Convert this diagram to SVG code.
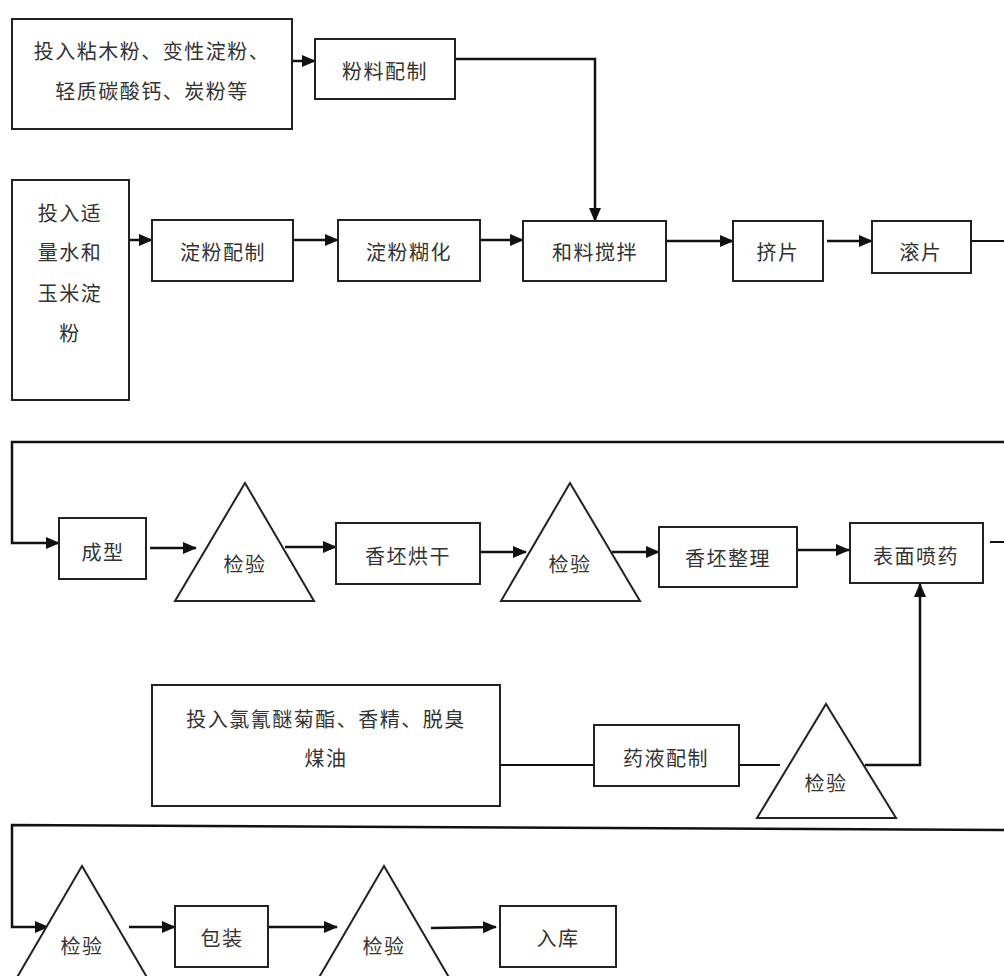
<svg xmlns="http://www.w3.org/2000/svg" width="1004" height="976" viewBox="0 0 1004 976">
<defs>
<marker id="arr" markerUnits="userSpaceOnUse" markerWidth="14" markerHeight="14" refX="13" refY="7" orient="auto">
<path d="M0,1 L14,7 L0,13 z" fill="#111"/>
</marker>
<style>
.box{fill:#fff;stroke:#222;stroke-width:2}
.tri{fill:#fff;stroke:#222;stroke-width:2}
.t{font-family:"Noto Sans CJK SC","Noto Sans",sans-serif;font-size:20px;fill:#333;text-anchor:middle;dominant-baseline:central;letter-spacing:1.5px}
.c{fill:none;stroke:#111;stroke-width:2}
.a{fill:none;stroke:#111;stroke-width:2.5;marker-end:url(#arr)}
</style>
</defs>
<rect width="1004" height="976" fill="#fff"/>
<g id="connectors">
<line class="a" x1="292" y1="61" x2="315" y2="61"/>
<path class="a" d="M455,59 H595 V221"/>
<line class="a" x1="129" y1="240" x2="152" y2="240"/>
<line class="a" x1="293" y1="240" x2="338" y2="240"/>
<line class="a" x1="480" y1="240" x2="523" y2="240"/>
<line class="a" x1="666" y1="241" x2="733" y2="241"/>
<line class="a" x1="827" y1="241" x2="872" y2="241"/>
<line class="c" x1="971" y1="241" x2="1004" y2="241"/>
<path class="a" d="M1004,442 H12 V543 H59"/>
<line class="a" x1="150" y1="548" x2="196" y2="548"/>
<line class="a" x1="285" y1="547" x2="336" y2="547"/>
<line class="a" x1="480" y1="552" x2="526" y2="552"/>
<line class="a" x1="612" y1="552" x2="659" y2="552"/>
<line class="a" x1="797" y1="550" x2="849" y2="550"/>
<line class="c" x1="990" y1="542" x2="1004" y2="542"/>
<line class="c" x1="500" y1="765" x2="594" y2="765"/>
<line class="c" x1="739" y1="765" x2="780" y2="765"/>
<path class="a" d="M865,765 H920 V584"/>
<path class="a" d="M1004,830 L12,825 V927 H48"/>
<line class="a" x1="129" y1="927" x2="175" y2="927"/>
<line class="a" x1="268" y1="927" x2="337" y2="927"/>
<line class="a" x1="431" y1="928" x2="496" y2="927"/>
</g>
<g id="n-input1">
<rect class="box" x="12" y="19" width="280" height="110"/>
<text class="t" x="152" y="50">投入粘木粉、变性淀粉、</text>
<text class="t" x="152" y="90">轻质碳酸钙、炭粉等</text>
</g>
<g id="n-fenliao">
<rect class="box" x="315" y="39" width="140" height="60"/>
<text class="t" x="385" y="70">粉料配制</text>
</g>
<g id="n-input2">
<rect class="box" x="12" y="180" width="117" height="220"/>
<text class="t" x="70" y="212">投入适</text>
<text class="t" x="70" y="251">量水和</text>
<text class="t" x="70" y="292">玉米淀</text>
<text class="t" x="70" y="332">粉</text>
</g>
<g id="n-dianfen-peizhi">
<rect class="box" x="152" y="220" width="141" height="61"/>
<text class="t" x="223" y="251">淀粉配制</text>
</g>
<g id="n-dianfen-huhua">
<rect class="box" x="338" y="220" width="142" height="61"/>
<text class="t" x="409" y="251">淀粉糊化</text>
</g>
<g id="n-heliao">
<rect class="box" x="523" y="221" width="143" height="60"/>
<text class="t" x="595" y="251">和料搅拌</text>
</g>
<g id="n-jipian">
<rect class="box" x="733" y="221" width="90" height="60"/>
<text class="t" x="778" y="251">挤片</text>
</g>
<g id="n-gunpian">
<rect class="box" x="872" y="221" width="99" height="52"/>
<text class="t" x="921" y="251">滚片</text>
</g>
<g id="n-chengxing">
<rect class="box" x="59" y="518" width="87" height="61"/>
<text class="t" x="103" y="551">成型</text>
</g>
<g id="n-jianyan1">
<polygon class="tri" points="245,483 314,601 175,601"/>
<text class="t" x="245" y="563">检验</text>
</g>
<g id="n-hongan">
<rect class="box" x="336" y="523" width="144" height="61"/>
<text class="t" x="408" y="555">香坯烘干</text>
</g>
<g id="n-jianyan2">
<polygon class="tri" points="570,483 640,601 501,601"/>
<text class="t" x="570" y="563">检验</text>
</g>
<g id="n-zhengli">
<rect class="box" x="659" y="527" width="138" height="60"/>
<text class="t" x="728" y="557">香坯整理</text>
</g>
<g id="n-penyao">
<rect class="box" x="850" y="523" width="133" height="60"/>
<text class="t" x="916" y="555">表面喷药</text>
</g>
<g id="n-input3">
<rect class="box" x="152" y="685" width="348" height="121"/>
<text class="t" x="326" y="718">投入氯氰醚菊酯、香精、脱臭</text>
<text class="t" x="326" y="757">煤油</text>
</g>
<g id="n-yaoye">
<rect class="box" x="594" y="725" width="145" height="61"/>
<text class="t" x="666" y="757">药液配制</text>
</g>
<g id="n-jianyan3">
<polygon class="tri" points="826,704 896,818 757,818"/>
<text class="t" x="826" y="782">检验</text>
</g>
<g id="n-jianyan4">
<polygon class="tri" points="82,866 152,986 12,986"/>
<text class="t" x="82" y="945">检验</text>
</g>
<g id="n-baozhuang">
<rect class="box" x="175" y="906" width="93" height="61"/>
<text class="t" x="222" y="937">包装</text>
</g>
<g id="n-jianyan5">
<polygon class="tri" points="384,866 454,986 314,986"/>
<text class="t" x="384" y="945">检验</text>
</g>
<g id="n-ruku">
<rect class="box" x="500" y="906" width="116" height="61"/>
<text class="t" x="558" y="937">入库</text>
</g>
</svg>
